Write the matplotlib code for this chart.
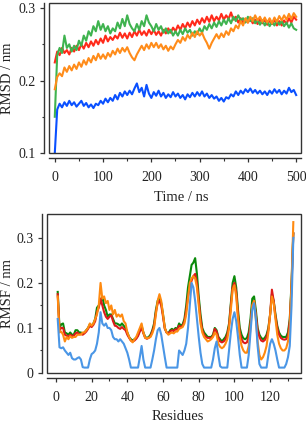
import numpy as np
import matplotlib
matplotlib.use("Agg")
import matplotlib.pyplot as plt
from matplotlib.patches import Rectangle
from matplotlib.ticker import MultipleLocator, FixedLocator, FixedFormatter

plt.rcParams['font.family'] = ['Liberation Serif', 'DejaVu Serif']

# ---------------- RMSD data (time in ns) ----------------
time_ns = list(range(0, 501, 5))
rmsd_blue = [0.100, 0.160, 0.168, 0.163, 0.170, 0.165, 0.172, 0.166, 0.170, 0.164,
             0.168, 0.172, 0.165, 0.169, 0.163, 0.167, 0.162, 0.168, 0.166, 0.172,
             0.168, 0.175, 0.170, 0.176, 0.172, 0.180, 0.174, 0.183, 0.178, 0.185,
             0.180, 0.186, 0.181, 0.189, 0.196, 0.184, 0.190, 0.178, 0.194, 0.182,
             0.176, 0.184, 0.179, 0.186, 0.178, 0.183, 0.176, 0.181, 0.177, 0.184,
             0.178, 0.182, 0.176, 0.180, 0.174, 0.181, 0.177, 0.183, 0.178, 0.184,
             0.179, 0.185, 0.178, 0.182, 0.176, 0.180, 0.175, 0.178, 0.172, 0.176,
             0.171, 0.177, 0.175, 0.181, 0.178, 0.185, 0.180, 0.186, 0.182, 0.188,
             0.184, 0.189, 0.183, 0.187, 0.182, 0.186, 0.181, 0.185, 0.180, 0.186,
             0.182, 0.188, 0.183, 0.187, 0.181, 0.186, 0.182, 0.190, 0.184, 0.187,
             0.180]
rmsd_green = [0.150, 0.235, 0.245, 0.238, 0.262, 0.245, 0.250, 0.240, 0.248, 0.242,
              0.255, 0.248, 0.262, 0.255, 0.268, 0.262, 0.275, 0.268, 0.282, 0.270,
              0.278, 0.268, 0.275, 0.265, 0.272, 0.268, 0.280, 0.272, 0.285, 0.275,
              0.290, 0.278, 0.272, 0.268, 0.278, 0.270, 0.282, 0.275, 0.290, 0.280,
              0.275, 0.268, 0.278, 0.270, 0.275, 0.266, 0.272, 0.265, 0.270, 0.262,
              0.268, 0.262, 0.270, 0.264, 0.272, 0.266, 0.270, 0.262, 0.268, 0.264,
              0.272, 0.266, 0.275, 0.270, 0.278, 0.272, 0.280, 0.274, 0.282, 0.276,
              0.284, 0.278, 0.286, 0.279, 0.288, 0.282, 0.290, 0.283, 0.286, 0.280,
              0.288, 0.282, 0.286, 0.279, 0.284, 0.277, 0.283, 0.276, 0.282, 0.275,
              0.281, 0.276, 0.283, 0.277, 0.282, 0.275, 0.280, 0.273, 0.279, 0.272,
              0.270]
rmsd_red = [0.225, 0.240, 0.235, 0.245, 0.238, 0.242, 0.236, 0.245, 0.240, 0.248,
            0.242, 0.250, 0.244, 0.252, 0.246, 0.254, 0.248, 0.256, 0.250, 0.258,
            0.252, 0.262, 0.254, 0.260, 0.256, 0.262, 0.258, 0.266, 0.259, 0.265,
            0.258, 0.266, 0.260, 0.268, 0.262, 0.270, 0.263, 0.268, 0.262, 0.270,
            0.264, 0.270, 0.263, 0.268, 0.262, 0.270, 0.265, 0.272, 0.266, 0.273,
            0.268, 0.276, 0.270, 0.278, 0.272, 0.280, 0.274, 0.282, 0.276, 0.284,
            0.278, 0.286, 0.280, 0.288, 0.281, 0.290, 0.282, 0.288, 0.283, 0.292,
            0.284, 0.290, 0.285, 0.294, 0.284, 0.288, 0.280, 0.286, 0.279, 0.285,
            0.280, 0.286, 0.279, 0.284, 0.278, 0.285, 0.279, 0.284, 0.277, 0.283,
            0.278, 0.284, 0.276, 0.282, 0.276, 0.283, 0.278, 0.286, 0.280, 0.288,
            0.284]
rmsd_orange = [0.188, 0.205, 0.210, 0.206, 0.218, 0.212, 0.220, 0.214, 0.222, 0.216,
               0.225, 0.219, 0.228, 0.222, 0.231, 0.225, 0.234, 0.228, 0.237, 0.230,
               0.236, 0.230, 0.238, 0.233, 0.241, 0.236, 0.244, 0.238, 0.245, 0.240,
               0.246, 0.238, 0.232, 0.228, 0.236, 0.242, 0.248, 0.242, 0.250, 0.244,
               0.252, 0.246, 0.252, 0.245, 0.250, 0.243, 0.248, 0.241, 0.247, 0.243,
               0.250, 0.256, 0.252, 0.260, 0.255, 0.263, 0.258, 0.266, 0.260, 0.268,
               0.262, 0.266, 0.258, 0.252, 0.244, 0.252, 0.258, 0.264, 0.258, 0.265,
               0.260, 0.268, 0.263, 0.272, 0.268, 0.276, 0.272, 0.282, 0.276, 0.286,
               0.280, 0.288, 0.282, 0.290, 0.283, 0.288, 0.281, 0.287, 0.280, 0.286,
               0.279, 0.287, 0.281, 0.289, 0.283, 0.290, 0.284, 0.292, 0.285, 0.293,
               0.288]

# ---------------- RMSF data (residue index) ----------------
residues = list(range(1, 134))
rmsf_blue = [0.120, 0.057, 0.055, 0.057, 0.050, 0.045, 0.040, 0.045, 0.033, 0.030,
             0.030, 0.033, 0.035, 0.030, 0.013, 0.012, 0.012, 0.012, 0.030, 0.042,
             0.045, 0.050, 0.065, 0.090, 0.135, 0.110, 0.105, 0.110, 0.100, 0.100,
             0.095, 0.080, 0.075, 0.075, 0.070, 0.075, 0.070, 0.065, 0.055, 0.045,
             0.030, 0.012, 0.012, 0.012, 0.012, 0.012, 0.035, 0.060, 0.030, 0.012,
             0.012, 0.012, 0.012, 0.030, 0.050, 0.075, 0.095, 0.100, 0.085, 0.060,
             0.035, 0.012, 0.012, 0.012, 0.012, 0.012, 0.012, 0.012, 0.050, 0.045,
             0.040, 0.050, 0.065, 0.100, 0.150, 0.200, 0.190, 0.160, 0.120, 0.080,
             0.045, 0.020, 0.012, 0.012, 0.012, 0.012, 0.012, 0.030, 0.055, 0.070,
             0.040, 0.015, 0.012, 0.012, 0.012, 0.012, 0.050, 0.090, 0.120, 0.135,
             0.115, 0.080, 0.040, 0.012, 0.012, 0.012, 0.012, 0.040, 0.090, 0.140,
             0.155, 0.120, 0.060, 0.020, 0.012, 0.012, 0.012, 0.012, 0.040, 0.065,
             0.075, 0.065, 0.050, 0.030, 0.012, 0.012, 0.012, 0.012, 0.020, 0.035,
             0.060, 0.150, 0.300]
rmsf_green = [0.180, 0.100, 0.108, 0.110, 0.090, 0.088, 0.085, 0.090, 0.085, 0.085,
              0.095, 0.095, 0.090, 0.090, 0.087, 0.090, 0.095, 0.100, 0.108, 0.105,
              0.110, 0.120, 0.145, 0.150, 0.160, 0.170, 0.150, 0.140, 0.125, 0.130,
              0.130, 0.120, 0.110, 0.110, 0.108, 0.105, 0.110, 0.105, 0.100, 0.090,
              0.080, 0.075, 0.072, 0.075, 0.078, 0.085, 0.095, 0.105, 0.090, 0.080,
              0.078, 0.080, 0.085, 0.095, 0.110, 0.140, 0.160, 0.168, 0.155, 0.130,
              0.100, 0.090, 0.088, 0.095, 0.098, 0.095, 0.100, 0.098, 0.110, 0.105,
              0.108, 0.120, 0.150, 0.190, 0.215, 0.240, 0.245, 0.255, 0.220, 0.170,
              0.130, 0.100, 0.090, 0.085, 0.080, 0.080, 0.080, 0.085, 0.100, 0.095,
              0.080, 0.075, 0.070, 0.075, 0.080, 0.090, 0.110, 0.155, 0.200, 0.215,
              0.190, 0.140, 0.100, 0.085, 0.077, 0.075, 0.078, 0.090, 0.120, 0.165,
              0.170, 0.140, 0.100, 0.085, 0.078, 0.075, 0.078, 0.085, 0.100, 0.130,
              0.175, 0.160, 0.130, 0.105, 0.090, 0.083, 0.080, 0.080, 0.080, 0.090,
              0.120, 0.200, 0.310]
rmsf_red = [0.175, 0.095, 0.100, 0.100, 0.085, 0.083, 0.080, 0.085, 0.082, 0.083,
            0.088, 0.090, 0.086, 0.087, 0.085, 0.088, 0.092, 0.098, 0.105, 0.102,
            0.107, 0.115, 0.135, 0.145, 0.165, 0.150, 0.135, 0.125, 0.120, 0.125,
            0.128, 0.115, 0.105, 0.104, 0.100, 0.098, 0.102, 0.098, 0.095, 0.085,
            0.078, 0.072, 0.070, 0.072, 0.076, 0.082, 0.092, 0.100, 0.088, 0.078,
            0.076, 0.078, 0.082, 0.092, 0.105, 0.135, 0.155, 0.160, 0.150, 0.125,
            0.098, 0.090, 0.088, 0.092, 0.095, 0.093, 0.097, 0.096, 0.105, 0.102,
            0.105, 0.115, 0.140, 0.170, 0.190, 0.205, 0.215, 0.220, 0.200, 0.160,
            0.120, 0.095, 0.085, 0.080, 0.078, 0.078, 0.078, 0.082, 0.098, 0.092,
            0.078, 0.070, 0.068, 0.070, 0.075, 0.085, 0.105, 0.150, 0.190, 0.200,
            0.180, 0.130, 0.090, 0.075, 0.068, 0.066, 0.068, 0.080, 0.110, 0.150,
            0.160, 0.130, 0.095, 0.080, 0.072, 0.070, 0.073, 0.080, 0.095, 0.130,
            0.185, 0.160, 0.125, 0.100, 0.085, 0.078, 0.075, 0.074, 0.075, 0.082,
            0.115, 0.190, 0.310]
rmsf_orange = [0.170, 0.090, 0.092, 0.085, 0.070, 0.080, 0.075, 0.082, 0.078, 0.080,
               0.080, 0.085, 0.085, 0.085, 0.090, 0.090, 0.095, 0.100, 0.110, 0.105,
               0.110, 0.120, 0.130, 0.150, 0.200, 0.165, 0.170, 0.155, 0.160, 0.140,
               0.150, 0.130, 0.140, 0.125, 0.130, 0.125, 0.130, 0.115, 0.110, 0.090,
               0.080, 0.072, 0.068, 0.075, 0.080, 0.090, 0.100, 0.110, 0.090, 0.078,
               0.077, 0.078, 0.080, 0.088, 0.100, 0.130, 0.160, 0.175, 0.160, 0.130,
               0.100, 0.090, 0.085, 0.088, 0.090, 0.088, 0.092, 0.092, 0.098, 0.100,
               0.102, 0.110, 0.130, 0.165, 0.200, 0.210, 0.215, 0.210, 0.190, 0.150,
               0.110, 0.090, 0.080, 0.075, 0.070, 0.072, 0.075, 0.080, 0.090, 0.085,
               0.065, 0.058, 0.055, 0.058, 0.065, 0.075, 0.100, 0.140, 0.185, 0.195,
               0.170, 0.120, 0.080, 0.060, 0.050, 0.045, 0.045, 0.060, 0.100, 0.150,
               0.160, 0.120, 0.070, 0.040, 0.030, 0.035, 0.045, 0.060, 0.090, 0.130,
               0.170, 0.155, 0.120, 0.085, 0.065, 0.055, 0.050, 0.050, 0.055, 0.070,
               0.100, 0.200, 0.335]

TXT = '#222222'
AX = '#333333'

fig = plt.figure(figsize=(3.06, 4.23), dpi=100)
ax1 = fig.add_axes([49/306, 1-153/423, 252/306, 150/423])
ax2 = fig.add_axes([47/306, 1-373/423, 254/306, 159/423])


def style(ax, xpad):
    for s in ['top', 'right']:
        ax.spines[s].set_visible(False)
    for s in ['left', 'bottom']:
        ax.spines[s].set_position(('outward', 3.6))
        ax.spines[s].set_color(AX)
        ax.spines[s].set_linewidth(1.0)
    ax.add_patch(Rectangle((0, 0), 1, 1, transform=ax.transAxes, fill=False,
                           lw=1.0, edgecolor=AX, clip_on=False, zorder=5))
    ax.tick_params(which='major', direction='out', length=3.2, width=0.9,
                   colors=AX, labelcolor=TXT, labelsize=10)
    ax.tick_params(which='minor', direction='out', length=1.8, width=0.8, colors=AX)
    ax.tick_params(axis='x', which='major', pad=xpad)
    ax.tick_params(axis='y', which='major', pad=3)


# Top: RMSD
ax1.plot(time_ns, rmsd_red, color='#ff2a1a', lw=1.5)
ax1.plot(time_ns, rmsd_green, color='#3fb34f', lw=1.5)
ax1.plot(time_ns, rmsd_orange, color='#ff8c1a', lw=1.5)
ax1.plot(time_ns, rmsd_blue, color='#0a50ff', lw=1.5)
ax1.set_xlim(-12, 510)
ax1.set_ylim(0.1, 0.307)
style(ax1, 6.0)
ax1.xaxis.set_major_locator(FixedLocator([0, 100, 200, 300, 400, 500]))
ax1.xaxis.set_minor_locator(MultipleLocator(50))
ax1.yaxis.set_major_locator(FixedLocator([0.1, 0.2, 0.3]))
ax1.yaxis.set_major_formatter(FixedFormatter(['0.1', '0.2', '0.3']))
ax1.yaxis.set_minor_locator(FixedLocator([0.15, 0.25]))
ax1.set_xlabel('Time / ns', fontsize=10.5, color=TXT)
ax1.set_ylabel('RMSD / nm', fontsize=10.5, color=TXT)
ax1.xaxis.set_label_coords(0.524, -0.253)
ax1.yaxis.set_label_coords(-0.163, 0.5)
ax1.yaxis.label.set_va('center')

# Bottom: RMSF
ax2.plot(residues, rmsf_green, color='#0a8a0a', lw=1.5)
ax2.plot(residues, rmsf_red, color='#dd1a1a', lw=1.5)
ax2.plot(residues, rmsf_orange, color='#ff8a10', lw=1.5)
ax2.plot(residues, rmsf_blue, color='#4a96e6', lw=1.5)
ax2.set_xlim(-5, 137.3)
ax2.set_ylim(0, 0.353)
style(ax2, 6.5)
ax2.xaxis.set_major_locator(FixedLocator([0, 20, 40, 60, 80, 100, 120]))
ax2.xaxis.set_minor_locator(FixedLocator([10, 30, 50, 70, 90, 110, 130]))
ax2.yaxis.set_major_locator(FixedLocator([0, 0.1, 0.2, 0.3]))
ax2.yaxis.set_major_formatter(FixedFormatter(['0', '0.1', '0.2', '0.3']))
ax2.yaxis.set_minor_locator(FixedLocator([0.05, 0.15, 0.25]))
ax2.set_xlabel('Residues', fontsize=10.5, color=TXT)
ax2.set_ylabel('RMSF / nm', fontsize=10.5, color=TXT)
ax2.xaxis.set_label_coords(0.514, -0.233)
ax2.yaxis.set_label_coords(-0.154, 0.5)
ax2.yaxis.label.set_va('center')

fig.savefig('out.png', dpi=100)
